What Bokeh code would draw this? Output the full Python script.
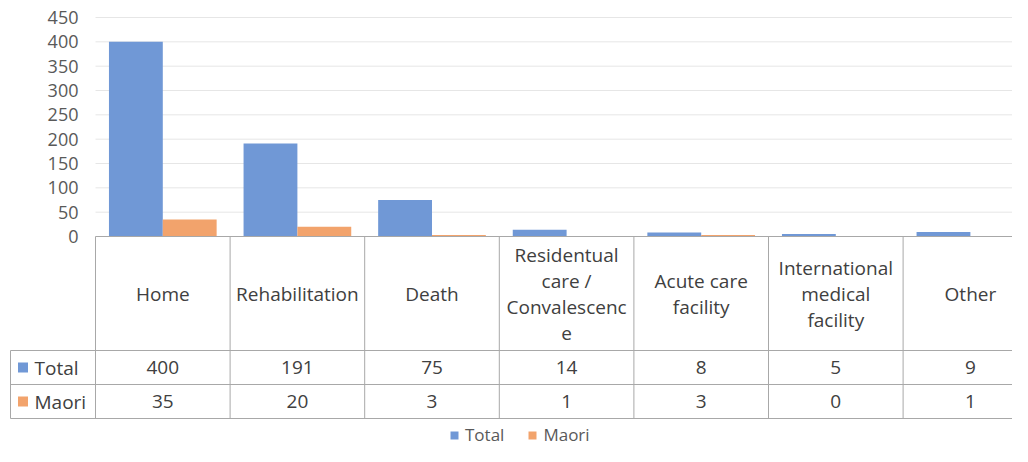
import numpy as np
from bokeh.plotting import figure
from bokeh.models import Range1d, Legend, LegendItem, ColumnDataSource
from bokeh.core.properties import value
from bokeh.embed import file_html
from bokeh.resources import INLINE

# ---- data ----
categories = ["Home", "Rehabilitation", "Death",
              "Residentual\ncare /\nConvalescenc\ne",
              "Acute care\nfacility", "International\nmedical\nfacility", "Other"]
series_names = ["Total", "Maori"]
total = [400, 191, 75, 14, 8, 5, 9]
maori = [35, 20, 3, 1, 3, 0, 1]
y_ticks = [0, 50, 100, 150, 200, 250, 300, 350, 400, 450]

# ---- styles ----
FONT = "Open Sans"
BLUE = "#7098D6"
ORANGE = "#F2A36C"
GRID = "#E6E6E6"
BORDER = "#A8A8A8"
TXT = "#404040"
AX = "#595959"

W, H = 1012, 446
CAT0 = 95            # x (px) where the first category starts
PX_PER_CAT = 134.6
Y_TOP, Y_ZERO = 17, 236   # px of 450 and of 0
YMAX = 450
K = YMAX / (Y_ZERO - Y_TOP)   # value units per pixel

def xd(px):
    return (px - CAT0) / PX_PER_CAT

def yd(py):
    return (Y_ZERO - py) * K

n = len(categories)
idx = np.arange(n)
x_end = xd(W)

p = figure(width=W, height=H, output_backend="svg", toolbar_location=None,
           x_range=Range1d(xd(0), x_end), y_range=Range1d(yd(H), yd(0)),
           min_border_left=0, min_border_right=0, min_border_top=0, min_border_bottom=0)
p.xaxis.visible = False
p.yaxis.visible = False
p.grid.visible = False
p.outline_line_color = None
p.background_fill_color = None
p.border_fill_color = None

# gridlines (value scale)
gt = y_ticks[1:]
p.segment(x0=[0] * len(gt), y0=gt, x1=[n] * len(gt), y1=gt, line_color=GRID, line_width=1)

# bars
src = ColumnDataSource(dict(xt=idx + 0.3, xm=idx + 0.7, total=total, maori=maori))
p.vbar(x="xt", top="total", bottom=0, width=0.4, source=src, fill_color=BLUE, line_color=None)
p.vbar(x="xm", top="maori", bottom=0, width=0.4, source=src, fill_color=ORANGE, line_color=None)

# y tick labels
p.text(x=[xd(78)] * len(y_ticks), y=y_ticks, text=[str(t) for t in y_ticks],
       text_align="right", text_baseline="middle", text_font=value(FONT),
       text_font_size="18px", text_color=AX)

# ---- table ----
y_top = 0
y_head = yd(Y_ZERO + 114)
y_tot = yd(Y_ZERO + 148)
y_mao = yd(Y_ZERO + 182)
x_lab_left = xd(10)

bx = np.arange(n + 1)
p.segment(x0=bx, y0=[y_top] * (n + 1), x1=bx, y1=[y_mao] * (n + 1), line_color=BORDER, line_width=1)
p.segment(x0=[x_lab_left], y0=[y_head], x1=[x_lab_left], y1=[y_mao], line_color=BORDER, line_width=1)
p.segment(x0=[0], y0=[y_top], x1=[n], y1=[y_top], line_color=BORDER, line_width=1)
p.segment(x0=[x_lab_left] * 3, y0=[y_head, y_tot, y_mao], x1=[n] * 3, y1=[y_head, y_tot, y_mao],
          line_color=BORDER, line_width=1)

cx = idx + 0.5
p.text(x=cx, y=[(y_top + y_head) / 2] * n, text=categories, text_align="center",
       text_baseline="middle", text_font=value(FONT), text_font_size="19px",
       text_color=TXT, text_line_height=1.0)
p.text(x=cx, y=[(y_head + y_tot) / 2] * n, text=[str(v) for v in total], text_align="center",
       text_baseline="middle", text_font=value(FONT), text_font_size="19px", text_color=TXT)
p.text(x=cx, y=[(y_tot + y_mao) / 2] * n, text=[str(v) for v in maori], text_align="center",
       text_baseline="middle", text_font=value(FONT), text_font_size="19px", text_color=TXT)

sq_t = p.scatter(x=[xd(22.5)], y=[(y_head + y_tot) / 2], marker="square", size=10,
                 fill_color=BLUE, line_color=None)
sq_m = p.scatter(x=[xd(22.5)], y=[(y_tot + y_mao) / 2], marker="square", size=10,
                 fill_color=ORANGE, line_color=None)
p.text(x=[xd(34)] * 2, y=[(y_head + y_tot) / 2, (y_tot + y_mao) / 2], text=series_names,
       text_align="left", text_baseline="middle", text_font=value(FONT),
       text_font_size="19px", text_color=TXT)

legend = Legend(items=[LegendItem(label=series_names[0], renderers=[sq_t]),
                       LegendItem(label=series_names[1], renderers=[sq_m])],
                orientation="horizontal", location=(444, 0),
                glyph_width=20, glyph_height=20, label_standoff=1, spacing=18,
                padding=0, margin=0, border_line_color=None, background_fill_alpha=0,
                label_text_font=FONT, label_text_font_size="17px", label_text_color=AX)
p.add_layout(legend, "center")

open("out.html", "w").write(file_html(p, INLINE))
